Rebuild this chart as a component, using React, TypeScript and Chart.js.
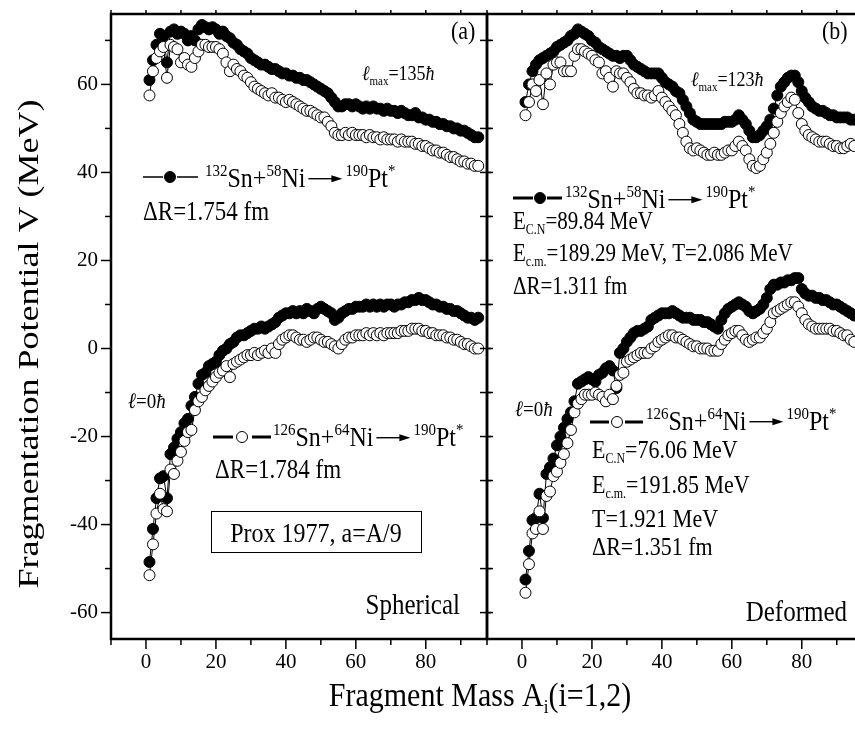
import React, { useEffect, useRef } from "react";
import { Chart, registerables } from "chart.js";

Chart.register(...registerables);

// ---------- data ----------
const MASS_FIRST = 1;
const MASS_LAST = 95;
const MASS = Array.from({ length: MASS_LAST - MASS_FIRST + 1 }, (_, i) => MASS_FIRST + i);

// (a) Spherical, l_max = 135 hbar
const SPH_LMAX_SN132 = [
  61, 65.5, 69, 71.5, 71, 65, 72, 72.5, 71.5, 72, 71.5, 70, 71, 70, 72.5, 73.5, 73, 72.5, 73, 72.5,
  71.5, 72, 71, 70.5, 69.5, 69, 68, 67.5, 67, 66, 65.5, 65, 64.5, 64.5, 64, 63.5, 63.5, 63, 62.5, 62.5,
  62, 62, 61.5, 61.5, 61, 61, 60.5, 60, 59.5, 59, 58.5, 58, 57, 56, 55, 55, 55.5, 55.5, 55, 55.5,
  55, 54.5, 55, 54.5, 55, 54.5, 54.5, 54, 54.5, 54, 54, 53.5, 54, 53.5, 53, 53, 53.5, 52.5, 52.5, 52,
  52, 51.5, 51.5, 51, 51, 50.5, 50.5, 50, 50, 49.5, 49.5, 49, 48.5, 48, 48,
];
const SPH_LMAX_SN126 = [
  57.5, 63, 66, 67.5, 68.5, 61.5, 69, 68.5, 68, 65, 66, 64.5, 64, 66, 67.5, 69, 69, 68.5, 68.5, 68.5,
  68, 67, 65, 63, 64.5, 63.5, 63, 62, 61.5, 60.5, 59.5, 59, 58.5, 58, 57.5, 58, 57, 57, 56.5, 56,
  56.5, 56, 55.5, 55, 54.5, 54, 54, 53.5, 53, 52.5, 52.5, 51.5, 50.5, 49, 48.5, 48.5, 49, 48.5, 49, 48.5,
  48.5, 48.5, 48, 48.5, 48, 48, 47.5, 48, 47.5, 47.5, 47.5, 47, 47.5, 47, 47, 47, 46.5, 46.5, 46, 46,
  45.5, 45, 45, 44.5, 44.5, 44, 43.5, 43.5, 43, 42.5, 42.5, 42, 42, 41.5, 41.5,
];
// (a) Spherical, l = 0
const SPH_L0_SN132 = [
  -48.5, -41, -34, -29.5, -29, -34, -24, -22.5, -20.5, -19, -17, -16, -13, -11, -8, -6, -5.5, -4, -3.5, -3,
  -1.5, -0.5, 0, 1, 1.5, 2.5, 3, 3, 3.5, 4, 4.5, 4.5, 5, 4.5, 5, 5.5, 6, 7, 7.5, 8,
  8, 8.5, 8, 8.5, 8, 9, 8.5, 8, 9, 9.5, 9, 8.5, 8, 6.5, 7, 8, 8.5, 9, 9, 9.5,
  9.5, 9.5, 10, 9.5, 10, 9.5, 10, 9.5, 10, 10, 9.5, 10, 10, 10.5, 10.5, 11, 11, 11.5, 11, 11,
  10.5, 10, 10, 9.5, 9.5, 9, 9, 8.5, 8.5, 8, 7.5, 7, 7, 6.5, 7,
];
const SPH_L0_SN126 = [
  -51.5, -44.5, -37.5, -33, -36.5, -37, -27.5, -28.5, -25.5, -23.5, -21, -19, -18.5, -14, -12, -11, -9.5, -8.5, -7.5, -6.5,
  -5.5, -5, -4, -6.5, -3.5, -3, -2.5, -2, -1.5, -1.5, -1, -1.5, -1, -0.5, -1, 0, -1, 1, 2, 2.5,
  3, 3, 2.5, 2, 2, 1.5, 2, 2.5, 2.5, 2, 1.5, 1.5, 1, 0.5, 0, 1, 2, 2.5, 2.5, 3,
  3, 3, 3.5, 3, 3.5, 3, 3.5, 3, 3.5, 3.5, 3.5, 3.5, 4, 4, 4, 4.5, 4.5, 4.5, 4, 4,
  3.5, 3.5, 3, 3, 3, 2.5, 2.5, 2, 2, 1.5, 1, 1, 0.5, 0, 0,
];

// (b) Deformed, l_max = 123 hbar
const DEF_LMAX_SN132 = [
  56, 60, 63, 64.5, 65.5, 66, 66.5, 67, 67.5, 68.5, 69, 69.5, 70, 71, 71.5, 72.5, 72, 71.5, 71, 70,
  69.5, 68.5, 68, 67.5, 67, 66.5, 66.5, 66, 66.5, 66.5, 65.5, 64.5, 64, 63.5, 63, 62.5, 62.5, 62.5, 62.5, 61.5,
  60.5, 60, 59.5, 58.5, 58, 56.5, 55, 53.5, 52, 51.5, 51, 51, 51, 51, 51, 51, 51, 51.5, 51.5, 51.5,
  52, 53, 52, 51, 49.5, 48, 48, 48.5, 49.5, 50.5, 52, 54.5, 57.5, 59.5, 60.5, 61.5, 62, 62, 60.5, 58.5,
  57, 56, 55, 54.5, 54, 54, 53.5, 53, 53, 52.5, 52.5, 52.5, 52.5, 52, 52,
];
const DEF_LMAX_SN126 = [
  53, 56, 60, 58.5, 61, 55.5, 62.5, 60, 64.5, 65, 65, 63, 63, 63, 66.5, 68, 68, 67.5, 67, 66.5,
  65.5, 65, 62.5, 63, 61.5, 59.5, 63, 62.5, 62.5, 61.5, 60.5, 59, 58, 58, 57.5, 57.5, 57, 57.5, 58.5, 57,
  56, 55, 54, 53, 51, 49, 47, 45.5, 45, 45.5, 45, 44.5, 44, 44, 44.5, 44, 44, 44.5, 45, 45,
  46, 47, 46, 45, 43, 41.5, 41, 41.5, 43, 44.5, 46.5, 49, 51.5, 53.5, 55, 56, 57, 56.5, 53.5, 51,
  49.5, 48.5, 48, 47.5, 47, 47, 47, 46.5, 46, 46, 45.5, 45.5, 46, 46.5, 46,
];
// (b) Deformed, l = 0
const DEF_L0_SN132 = [
  -52.5, -46, -39, -38.5, -33, -38.5, -28.5, -27, -25, -22, -20, -18, -16, -14.5, -12, -8, -7.5, -7, -6.5, -7,
  -7.5, -6, -5.5, -4.5, -4, -5, -9, -1, 0, 1.5, 2.5, 3.5, 4, 4, 4.5, 5, 6.5, 7, 7.5, 8,
  8, 8, 8.5, 8, 7.5, 7, 7, 7, 6.5, 6.5, 6.5, 6, 6, 5.5, 5, 4.5, 6.5, 8, 9, 9.5,
  10, 10.5, 10, 9.5, 8.5, 8, 8.5, 9, 10, 11.5, 13.5, 14.5, 14.5, 15, 15, 15.5, 15.5, 16, 16, 13.5,
  12.5, 12, 12, 11.5, 11.5, 11, 11, 10.5, 10, 10, 9.5, 9, 8.5, 8, 7.5,
];
const DEF_L0_SN126 = [
  -55.5, -49, -42, -41, -37, -41, -33.5, -32.5, -29, -28, -26, -24, -21.5, -18.5, -14.5, -12.5, -11.5, -10.5, -10.5, -10.5,
  -10, -10.5, -11, -12, -10.5, -11.5, -8.5, -6, -5.5, -3, -2.5, -2, -1.5, -1, -1, -1, 0, 0.5, 1.5, 2,
  2.5, 3, 3, 2.5, 2.5, 2, 1.5, 1, 0.5, 0.5, 0, 0, 0, -0.5, -0.5, -0.5, 1, 2, 3, 3.5,
  4, 4, 3, 2, 1.5, 2, 2.5, 2.5, 3.5, 4.5, 6, 8, 8.5, 9, 9.5, 10, 10.5, 10.5, 9.5, 8,
  6.5, 5.5, 5, 4.5, 4.5, 4.5, 4.5, 4.5, 4, 4, 3.5, 3, 3, 2, 1.5,
];

const X_LABEL_TICKS = [0, 20, 40, 60, 80];
const X_MINOR_TICKS = [-10, 0, 10, 20, 30, 40, 50, 60, 70, 80, 90];
const Y_LABEL_TICKS = [-60, -40, -20, 0, 20, 40, 60];
const Y_MINOR_TICKS = [-60, -50, -40, -30, -20, -10, 0, 10, 20, 30, 40, 50, 60, 70];
const X_MIN = -10;
const X_MAX = 97.5;
const Y_MIN = -66;
const Y_MAX = 76;

const Y_TITLE = "Fragmentation Potential V (MeV)";
const X_TITLE = ["Fragment Mass A", "i", "(i=1,2)"];

// ---------- drawing helpers ----------
const FONT = '"Liberation Serif", "Times New Roman", serif';
const S = 1.15; // vertical stretch of the original figure's lettering

type Seg = { t?: string; size: number; dy?: number; it?: boolean; arrow?: number };
type Note =
  | { kind: "text"; x: number; y: number; align?: "left" | "right" | "center"; segs: Seg[] }
  | { kind: "marker"; y: number; a: number; b: number; c: number; d: number; cx: number; filled: boolean; lw: number }
  | { kind: "box"; x: number; y: number; w: number; h: number }
  | { kind: "vtext"; x: number; y: number; size: number; text: string };

const fontOf = (s: Seg) => `${s.it ? "italic " : ""}${s.size}px ${FONT}`;

function drawSegs(ctx: CanvasRenderingContext2D, x: number, y: number, segs: Seg[], align = "left") {
  ctx.save();
  ctx.translate(x, y);
  ctx.scale(1, S);
  ctx.fillStyle = "#000";
  ctx.strokeStyle = "#000";
  ctx.textBaseline = "alphabetic";
  ctx.textAlign = "left";
  const widths = segs.map((s) => {
    if (s.arrow) return s.arrow;
    ctx.font = fontOf(s);
    return ctx.measureText(s.t || "").width;
  });
  const total = widths.reduce((a, b) => a + b, 0);
  let cx = align === "right" ? -total : align === "center" ? -total / 2 : 0;
  segs.forEach((s, i) => {
    if (s.arrow) {
      const ay = -0.3 * s.size;
      ctx.lineWidth = 1.2;
      ctx.beginPath();
      ctx.moveTo(cx + 3, ay);
      ctx.lineTo(cx + s.arrow - 10, ay);
      ctx.stroke();
      ctx.beginPath();
      ctx.moveTo(cx + s.arrow - 14, ay - 3.5 / S);
      ctx.lineTo(cx + s.arrow - 3, ay);
      ctx.lineTo(cx + s.arrow - 14, ay + 3.5 / S);
      ctx.closePath();
      ctx.fill();
    } else {
      ctx.font = fontOf(s);
      ctx.fillText(s.t || "", cx, (s.dy || 0) / S);
    }
    cx += widths[i];
  });
  ctx.restore();
}

const T = (t: string, size: number, extra: Partial<Seg> = {}): Seg => ({ t, size, ...extra });

const reaction = (pA: string, p: string, tA: string, t: string, big: number, small: number): Seg[] => [
  T(pA, small, { dy: -11 }),
  T(p + "+", big),
  T(tA, small, { dy: -11 }),
  T(t, big),
  { size: big, arrow: 40 },
  T("190", small, { dy: -11 }),
  T("Pt", big),
  T("*", small, { dy: -11 }),
];

const lmax = (v: string): Seg[] => [T("ℓ", 18, { it: true }), T("max", 11, { dy: 5 }), T("=" + v, 18), T("ħ", 18, { it: true })];
const lzero: Seg[] = [T("ℓ", 19, { it: true }), T("=0", 19), T("ħ", 19, { it: true })];
const ecn = (v: string, size: number): Seg[] => [T("E", size), T("C.N", 12, { dy: 5 }), T("=" + v + " MeV", size)];
const ecm = (v: string, size: number): Seg[] => [T("E", size), T("c.m.", 12, { dy: 5 }), T("=" + v, size)];

const LEFT_NOTES: Note[] = [
  { kind: "text", x: 451, y: 39, segs: [T("(a)", 22)] },
  { kind: "text", x: 362, y: 80, segs: lmax("135") },
  { kind: "marker", y: 177, a: 143, b: 163, c: 177, d: 198, cx: 170, filled: true, lw: 1.5 },
  { kind: "text", x: 205, y: 187, segs: reaction("132", "Sn", "58", "Ni", 24, 15) },
  { kind: "text", x: 143, y: 220, segs: [T("ΔR=1.754 fm", 23)] },
  { kind: "text", x: 128, y: 408, segs: lzero },
  { kind: "marker", y: 437, a: 213, b: 233, c: 252, d: 271, cx: 242, filled: false, lw: 3 },
  { kind: "text", x: 273, y: 446, segs: reaction("126", "Sn", "64", "Ni", 24, 15) },
  { kind: "text", x: 215, y: 478, segs: [T("ΔR=1.784 fm", 23)] },
  { kind: "box", x: 211, y: 511, w: 210, h: 41 },
  { kind: "text", x: 316, y: 542, align: "center", segs: [T("Prox 1977, a=A/9", 24)] },
  { kind: "text", x: 460, y: 614, align: "right", segs: [T("Spherical", 25)] },
  { kind: "vtext", x: 30, y: 344, size: 30, text: Y_TITLE },
  { kind: "text", x: 480, y: 706, align: "center", segs: [T(X_TITLE[0], 30), T(X_TITLE[1], 17, { dy: 7 }), T(X_TITLE[2], 30)] },
];

const RIGHT_NOTES: Note[] = [
  { kind: "text", x: 822, y: 39, segs: [T("(b)", 22)] },
  { kind: "text", x: 691, y: 86, segs: lmax("123") },
  { kind: "marker", y: 198, a: 513, b: 533, c: 547, d: 562, cx: 540, filled: true, lw: 3 },
  { kind: "text", x: 565, y: 208, segs: reaction("132", "Sn", "58", "Ni", 24, 15) },
  { kind: "text", x: 513, y: 229, segs: ecn("89.84", 21) },
  { kind: "text", x: 513, y: 261, segs: [...ecm("189.29 MeV, T=2.086 MeV", 21)] },
  { kind: "text", x: 513, y: 294, segs: [T("ΔR=1.311 fm", 21)] },
  { kind: "text", x: 515, y: 416, segs: lzero },
  { kind: "marker", y: 422, a: 590, b: 609, c: 625, d: 643, cx: 617, filled: false, lw: 3 },
  { kind: "text", x: 646, y: 430, segs: reaction("126", "Sn", "64", "Ni", 24, 15) },
  { kind: "text", x: 592, y: 458, segs: ecn("76.06", 22) },
  { kind: "text", x: 592, y: 493, segs: ecm("191.85 MeV", 22) },
  { kind: "text", x: 592, y: 527, segs: [T("T=1.921 MeV", 22)] },
  { kind: "text", x: 592, y: 555, segs: [T("ΔR=1.351 fm", 22)] },
  { kind: "text", x: 847, y: 621, align: "right", segs: [T("Deformed", 25)] },
];

const framePlugin = {
  id: "frame",
  afterDatasetsDraw(chart: any, _args: any, opts: any) {
    const { ctx, chartArea, scales } = chart;
    const { left, right, top, bottom } = chartArea;
    const x = scales.x;
    const y = scales.y;
    ctx.save();
    ctx.strokeStyle = "#000";
    ctx.lineWidth = 1.5;
    const seg = (x1: number, y1: number, x2: number, y2: number) => {
      ctx.beginPath();
      ctx.moveTo(x1, y1);
      ctx.lineTo(x2, y2);
      ctx.stroke();
    };
    X_MINOR_TICKS.forEach((v) => {
      const px = x.getPixelForValue(v);
      const major = X_LABEL_TICKS.includes(v);
      seg(px, bottom, px, bottom + (major ? 10 : 6));
      seg(px, top, px, top - 4);
    });
    Y_MINOR_TICKS.forEach((v) => {
      const py = y.getPixelForValue(v);
      const major = Y_LABEL_TICKS.includes(v);
      if (opts.side === "left") {
        seg(left - (major ? 10 : 6), py, left, py);
        seg(right - 7, py, right + 4, py);
      } else {
        seg(left, py, left + 6, py);
      }
    });
    ctx.lineWidth = 2.5;
    ctx.strokeRect(left, top, right - left, bottom - top);
    ctx.restore();
  },
};

const notesPlugin = {
  id: "notes",
  afterDraw(chart: any, _args: any, opts: any) {
    const ctx: CanvasRenderingContext2D = chart.ctx;
    ctx.save();
    ctx.translate(-(opts.offsetX || 0), 0);
    (opts.items as Note[]).forEach((n) => {
      if (n.kind === "text") drawSegs(ctx, n.x, n.y, n.segs, n.align || "left");
      else if (n.kind === "marker") {
        ctx.strokeStyle = "#000";
        ctx.lineWidth = n.lw;
        ctx.beginPath();
        ctx.moveTo(n.a, n.y);
        ctx.lineTo(n.b, n.y);
        ctx.moveTo(n.c, n.y);
        ctx.lineTo(n.d, n.y);
        ctx.stroke();
        ctx.beginPath();
        ctx.arc(n.cx, n.y, 5.5, 0, Math.PI * 2);
        ctx.fillStyle = n.filled ? "#000" : "#fff";
        ctx.fill();
        ctx.lineWidth = 1;
        ctx.stroke();
      } else if (n.kind === "box") {
        ctx.strokeStyle = "#000";
        ctx.lineWidth = 1;
        ctx.strokeRect(n.x + 0.5, n.y + 0.5, n.w, n.h);
      } else if (n.kind === "vtext") {
        ctx.save();
        ctx.translate(n.x, n.y);
        ctx.rotate(-Math.PI / 2);
        ctx.scale(1.2, 1);
        ctx.font = `${n.size}px ${FONT}`;
        ctx.fillStyle = "#000";
        ctx.textAlign = "center";
        ctx.textBaseline = "middle";
        ctx.fillText(n.text, 0, 0);
        ctx.restore();
      }
    });
    ctx.restore();
  },
};

function series(values: number[], filled: boolean) {
  return {
    data: MASS.map((m, i) => ({ x: m, y: values[i] })),
    showLine: true,
    borderColor: "#000",
    borderWidth: 1,
    pointRadius: 5.5,
    pointBackgroundColor: filled ? "#000" : "#fff",
    pointBorderColor: "#000",
    pointBorderWidth: 1,
  };
}

function makeConfig(side: "left" | "right", sets: number[][], notes: Note[], offsetX: number, padding: any): any {
  const tickFont = { family: FONT, size: 21 };
  return {
    type: "scatter",
    data: {
      datasets: [series(sets[1], false), series(sets[3], false), series(sets[0], true), series(sets[2], true)],
    },
    options: {
      responsive: false,
      animation: false,
      events: [],
      layout: { padding },
      plugins: {
        legend: { display: false },
        tooltip: { enabled: false },
        frame: { side },
        notes: { items: notes, offsetX },
      },
      scales: {
        x: {
          type: "linear",
          min: X_MIN,
          max: X_MAX,
          afterBuildTicks: (s: any) => {
            s.ticks = X_LABEL_TICKS.map((v) => ({ value: v }));
          },
          afterFit: (s: any) => {
            s.height = 99;
            s.paddingLeft = 0;
            s.paddingRight = 0;
          },
          grid: { display: false, drawTicks: false },
          border: { display: false },
          ticks: { font: tickFont, color: "#000", padding: 11, maxRotation: 0, autoSkip: false },
        },
        y: {
          type: "linear",
          display: side === "left",
          min: Y_MIN,
          max: Y_MAX,
          afterBuildTicks: (s: any) => {
            s.ticks = Y_LABEL_TICKS.map((v) => ({ value: v }));
          },
          afterFit: (s: any) => {
            s.width = side === "left" ? 111 : 0;
            s.paddingTop = 0;
            s.paddingBottom = 0;
          },
          grid: { display: false, drawTicks: false },
          border: { display: false },
          ticks: { font: tickFont, color: "#000", padding: 13, autoSkip: false },
        },
      },
    },
    plugins: [framePlugin, notesPlugin],
  };
}

export default function App() {
  const leftRef = useRef<HTMLCanvasElement>(null);
  const rightRef = useRef<HTMLCanvasElement>(null);
  useEffect(() => {
    const c1 = new Chart(
      leftRef.current as HTMLCanvasElement,
      makeConfig("left", [SPH_LMAX_SN132, SPH_LMAX_SN126, SPH_L0_SN132, SPH_L0_SN126], LEFT_NOTES, 0, {
        top: 14,
        left: 0,
        right: 368,
        bottom: 0,
      })
    );
    const c2 = new Chart(
      rightRef.current as HTMLCanvasElement,
      makeConfig("right", [DEF_LMAX_SN132, DEF_LMAX_SN126, DEF_L0_SN132, DEF_L0_SN126], RIGHT_NOTES, 480, {
        top: 14,
        left: 7,
        right: 17,
        bottom: 0,
      })
    );
    return () => {
      c1.destroy();
      c2.destroy();
    };
  }, []);
  return (
    <div style={{ position: "fixed", left: 0, top: 0, width: 855, height: 738, overflow: "hidden", background: "#fff" }}>
      <canvas ref={leftRef} width={855} height={738} style={{ position: "absolute", left: 0, top: 0 }} />
      <canvas ref={rightRef} width={400} height={738} style={{ position: "absolute", left: 480, top: 0 }} />
    </div>
  );
}
